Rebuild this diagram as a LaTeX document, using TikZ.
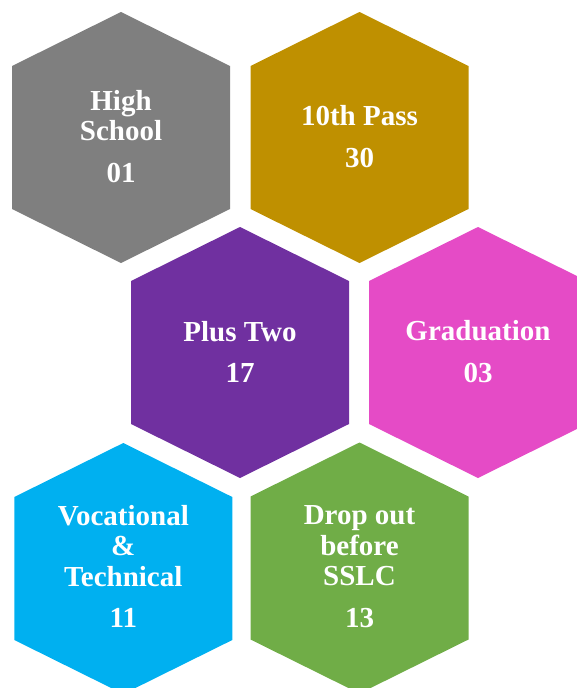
\documentclass[tikz,border=0pt]{standalone}
\usepackage{fontspec}
\setmainfont{Liberation Serif}
\definecolor{cellgray}{HTML}{7F7F7F}
\definecolor{cellgold}{HTML}{BF9000}
\definecolor{cellpurple}{HTML}{7030A0}
\definecolor{cellpink}{HTML}{E54BC6}
\definecolor{cellblue}{HTML}{00B0F0}
\definecolor{cellgreen}{HTML}{70AD47}
\begin{document}
\begin{tikzpicture}[x=1pt,y=-1pt,
	celltext/.style={text=white,font=\bfseries\fontsize{29}{30.5}\selectfont,align=center,inner sep=0pt,anchor=south}]
	\useasboundingbox (0,0) rectangle (577,688);
	\clip (0,0) rectangle (577,688);
	% hexagon cells: centre x / centre y / colour / name / title / number / baseline offset
	\foreach \cx/\cy/\col/\nm/\txt/\num/\dy in {
		121/137.5/cellgray/high/{High\\School}/01/45.2,
		359.5/137.5/cellgold/tenth/{10th Pass}/30/30.2,
		240/352.5/cellpurple/plustwo/{Plus Two}/17/30.2,
		478/352.5/cellpink/grad/{Graduation}/03/30.2,
		123.3/568.5/cellblue/voc/{Vocational\\\&\\Technical}/11/59.2,
		359.5/568/cellgreen/drop/{Drop out\\before\\SSLC}/13/59.7}{
		\fill[\col] (\cx,\cy-125.5) -- (\cx+109,\cy-71.5) -- (\cx+109,\cy+71.5) -- (\cx,\cy+125.5)
			-- (\cx-109,\cy+71.5) -- (\cx-109,\cy-71.5) -- cycle;
		\node[celltext] (\nm) at (\cx,\cy+\dy) {\txt\\[11pt]\num};
	}
\end{tikzpicture}
\end{document}
